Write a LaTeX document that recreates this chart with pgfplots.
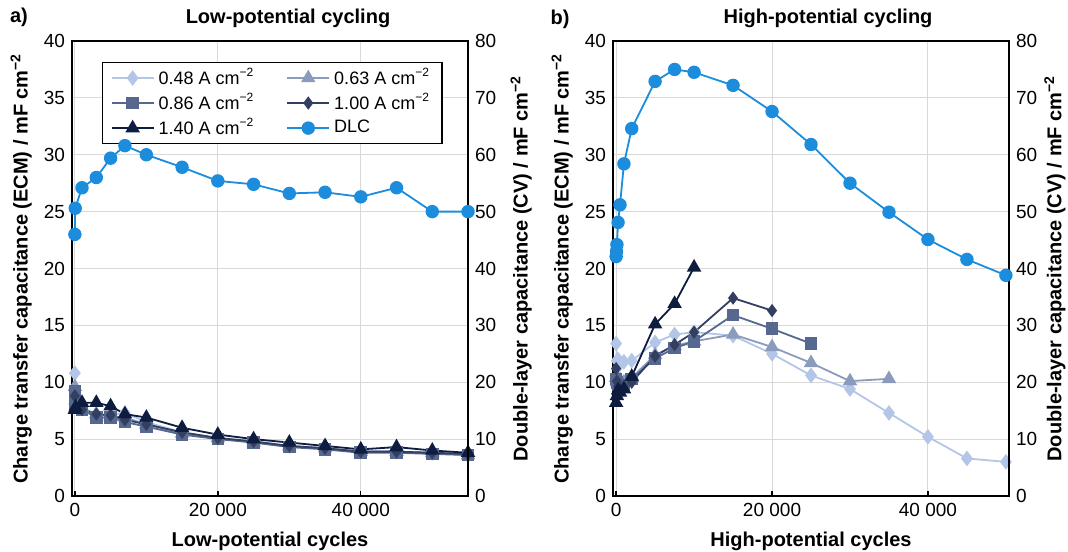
\documentclass[border=0pt]{standalone}
\usepackage{fontspec}
\setmainfont{Liberation Sans}
\usepackage{pgfplots}
\pgfplotsset{compat=1.18}

\definecolor{cA}{HTML}{B4C6E7}
\definecolor{cB}{HTML}{8A9BBD}
\definecolor{cC}{HTML}{56688F}
\definecolor{cD}{HTML}{323F61}
\definecolor{cE}{HTML}{0D1C3F}
\definecolor{cDLC}{HTML}{1C8CDC}

\pgfplotsset{
  panel/.style={
    scale only axis, width=198pt, height=227.5pt,
    xmin=-400, scaled x ticks=false, scaled y ticks=false,
    tick label style={font=\fontsize{9.5}{11}\selectfont},
    /pgf/number format/assume math mode=true,
    label style={font=\bfseries\fontsize{10}{12}\selectfont},
    axis line style={line width=0.7pt},
    tick align=inside, major tick length=2.5pt,
    ytick style={draw=none},
  },
  ecm/.style={
    ymin=0, ymax=40, ytick={0,5,...,40}, ytick pos=left,
    xtick={0,20000,40000}, xticklabels={0,20 000,40 000}, xtick pos=bottom,
    xtick style={line width=0.7pt, black},
    grid=major, major grid style={draw=black!15, line width=0.5pt},
    ylabel={Charge transfer capacitance (ECM) / mF cm\textsuperscript{−2}},
    ylabel style={at={(axis description cs:-0.128,0.5)}, anchor=center},
    xlabel style={at={(axis description cs:0.5,0)}, yshift=-22.5pt, anchor=center},
  },
  dl/.style={
    ymin=0, ymax=80, ytick={0,10,...,80},
    axis y line*=right, axis x line=none,
    ylabel={Double-layer capacitance (CV) / mF cm\textsuperscript{−2}},
  },
  sA/.style={color=cA, line width=0.9pt, mark=diamond*, mark size=3.2pt, mark options={solid}},
  sB/.style={color=cB, line width=0.9pt, mark=triangle*, mark size=3.3pt, mark options={solid}},
  sC/.style={color=cC, line width=0.9pt, mark=square*, mark size=2.7pt, mark options={solid}},
  sD/.style={color=cD, line width=0.9pt, mark=diamond*, mark size=2.6pt, mark options={solid}},
  sE/.style={color=cE, line width=0.9pt, mark=triangle*, mark size=3.3pt, mark options={solid}},
  sF/.style={color=cDLC, line width=0.9pt, mark=*, mark size=2.9pt, mark options={solid}},
}

\begin{document}
\begin{tikzpicture}
\useasboundingbox (0,0) rectangle (534pt,275.5pt);

% ---------- Panel a: ECM ----------
\begin{axis}[panel, ecm, at={(36pt,27.5pt)}, anchor=south west, xmax=55000,
  xlabel={Low-potential cycles},
  legend columns=2,
  legend cell align=left,
  legend style={at={(axis description cs:0.076,0.954)}, anchor=north west,
    draw=black, line width=0.6pt, font=\fontsize{9}{10.5}\selectfont,
    /tikz/every even column/.append style={column sep=14pt},
    inner xsep=4pt, inner ysep=1pt, row sep=-1pt},
  legend image code/.code={\draw[mark repeat=2,mark phase=2] plot coordinates {(0cm,0cm) (0.37cm,0cm) (0.74cm,0cm)};},
]
\addplot[sA] coordinates {(0,10.8) (100,8.6) (1000,7.8) (3000,7.2) (5000,7.1) (7000,7.3) (10000,6.5) (15000,5.6) (20000,5.1) (25000,4.8) (30000,4.4) (35000,4.2) (40000,3.9) (45000,3.9) (50000,3.8) (55000,3.6)};
\addlegendentry{0.48 A cm\textsuperscript{−2}}
\addplot[sB] coordinates {(0,9.6) (100,8.4) (1000,7.7) (3000,7.2) (5000,7.0) (7000,6.9) (10000,6.3) (15000,5.5) (20000,5.1) (25000,4.7) (30000,4.4) (35000,4.2) (40000,3.9) (45000,3.9) (50000,3.8) (55000,3.6)};
\addlegendentry{0.63 A cm\textsuperscript{−2}}
\addplot[sC] coordinates {(0,9.2) (100,8.1) (1000,7.6) (3000,6.9) (5000,6.9) (7000,6.5) (10000,6.1) (15000,5.4) (20000,5.0) (25000,4.7) (30000,4.3) (35000,4.1) (40000,3.8) (45000,3.8) (50000,3.7) (55000,3.6)};
\addlegendentry{0.86 A cm\textsuperscript{−2}}
\addplot[sD] coordinates {(0,8.8) (100,7.8) (1000,7.6) (3000,7.2) (5000,7.1) (7000,6.7) (10000,6.3) (15000,5.6) (20000,5.1) (25000,4.8) (30000,4.4) (35000,4.2) (40000,3.9) (45000,3.9) (50000,3.8) (55000,3.7)};
\addlegendentry{1.00 A cm\textsuperscript{−2}}
\addplot[sE] coordinates {(0,7.6) (100,7.8) (1000,8.2) (3000,8.2) (5000,7.9) (7000,7.2) (10000,6.9) (15000,6.0) (20000,5.4) (25000,5.0) (30000,4.7) (35000,4.4) (40000,4.1) (45000,4.3) (50000,4.0) (55000,3.8)};
\addlegendentry{1.40 A cm\textsuperscript{−2}}
\addlegendimage{sF}
\addlegendentry{DLC}
\end{axis}

% ---------- Panel a: DLC ----------
\begin{axis}[panel, dl, at={(36pt,27.5pt)}, anchor=south west, xmax=55000,
  ylabel style={at={(axis description cs:1.134,0.5)}, anchor=center}]
\addplot[sF] coordinates {(0,46.0) (50,50.6) (1000,54.2) (3000,56.0) (5000,59.4) (7000,61.6) (10000,60.0) (15000,57.8) (20000,55.4) (25000,54.8) (30000,53.2) (35000,53.4) (40000,52.6) (45000,54.2) (50000,50.0) (55000,50.0)};
\end{axis}

% ---------- Panel b: ECM ----------
\begin{axis}[panel, ecm, at={(306.5pt,27.5pt)}, anchor=south west, xmax=50400,
  xlabel={High-potential cycles}]
\addplot[sA] coordinates {(0,13.4) (100,11.9) (250,12.0) (500,11.6) (1000,11.8) (2000,11.9) (5000,13.5) (7500,14.2) (10000,14.4) (15000,14.1) (20000,12.5) (25000,10.6) (30000,9.4) (35000,7.3) (40000,5.2) (45000,3.3) (50000,3.0)};
\addplot[sB] coordinates {(0,10.4) (100,10.0) (250,10.3) (500,10.2) (1000,10.0) (2000,10.4) (5000,12.4) (7500,13.2) (10000,13.6) (15000,14.2) (20000,13.1) (25000,11.7) (30000,10.1) (35000,10.3)};
\addplot[sC] coordinates {(0,10.3) (100,10.0) (250,9.8) (500,9.7) (1000,9.6) (2000,10.3) (5000,12.1) (7500,13.0) (10000,13.6) (15000,15.9) (20000,14.7) (25000,13.4)};
\addplot[sD] coordinates {(0,11.2) (100,10.1) (250,9.6) (500,9.4) (1000,9.6) (2000,10.0) (5000,12.3) (7500,13.3) (10000,14.4) (15000,17.4) (20000,16.3)};
\addplot[sE] coordinates {(0,8.2) (100,8.8) (250,9.3) (500,9.1) (1000,9.4) (2000,10.5) (5000,15.1) (7500,16.9) (10000,20.1)};
\end{axis}

% ---------- Panel b: DLC ----------
\begin{axis}[panel, dl, at={(306.5pt,27.5pt)}, anchor=south west, xmax=50400,
  ylabel style={at={(axis description cs:1.116,0.5)}, anchor=center}]
\addplot[sF] coordinates {(0,42.1) (50,43.0) (100,44.2) (250,48.1) (500,51.2) (1000,58.4) (2000,64.6) (5000,72.9) (7500,75.0) (10000,74.5) (15000,72.2) (20000,67.6) (25000,61.8) (30000,55.0) (35000,49.9) (40000,45.1) (45000,41.6) (50000,38.8)};
\end{axis}

% titles and panel labels
\node[font=\bfseries\fontsize{10}{12}\selectfont] at (144pt,266.5pt) {Low-potential cycling};
\node[font=\bfseries\fontsize{10}{12}\selectfont] at (414pt,266.5pt) {High-potential cycling};
\node[font=\bfseries\fontsize{10}{12}\selectfont] at (9.5pt,267pt) {a)};
\node[font=\bfseries\fontsize{10}{12}\selectfont] at (280pt,266pt) {b)};
\end{tikzpicture}
\end{document}
